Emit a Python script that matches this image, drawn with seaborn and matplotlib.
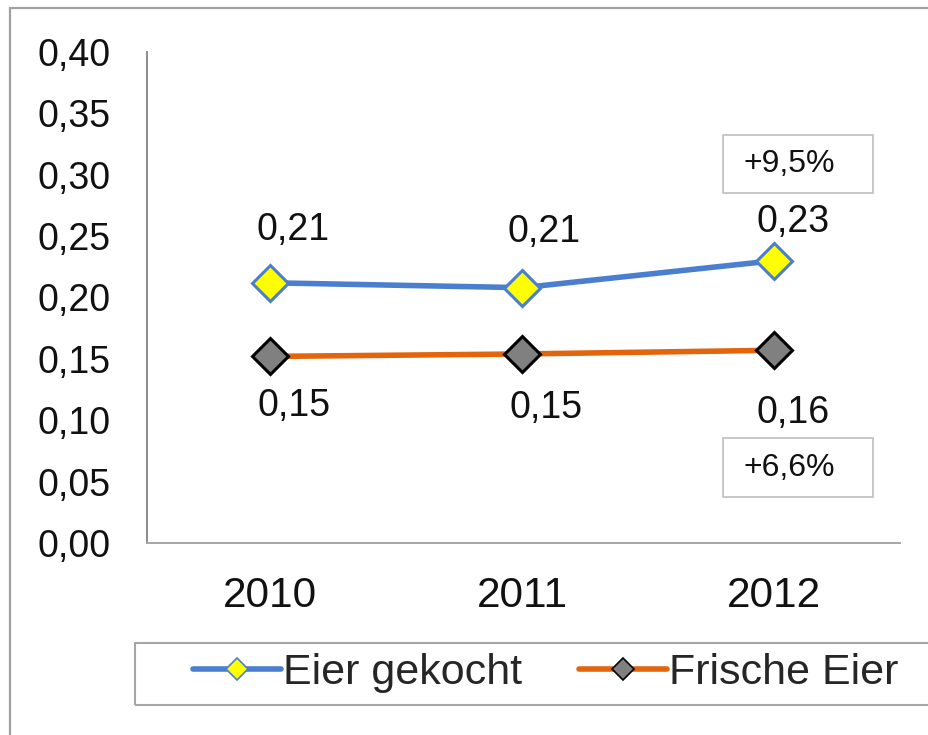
import matplotlib
matplotlib.use("Agg")
import matplotlib.pyplot as plt
from matplotlib.patches import Rectangle
from matplotlib.lines import Line2D
from matplotlib.ticker import FuncFormatter, MultipleLocator
import seaborn as sns
import pandas as pd

# ---- data ----
years = ["2010", "2011", "2012"]
eier_gekocht = [0.212, 0.208, 0.230]
frische_eier = [0.152, 0.154, 0.157]
series_names = ["Eier gekocht", "Frische Eier"]
change_labels = ["+9,5%", "+6,6%"]

sns.set_theme(style="white")
plt.rcParams["font.family"] = ["Liberation Sans", "DejaVu Sans"]

W, H = 929, 735
fig = plt.figure(figsize=(W / 100, H / 100), dpi=100)
ax = fig.add_axes([147 / W, 1 - 543 / H, 753 / W, (543 - 52) / H])

def fx(px):
    return px / W

def fy(py):
    return 1 - py / H

pos = list(range(len(years)))
df = pd.DataFrame({"pos": pos * 2,
                   "value": eier_gekocht + frische_eier,
                   "series": [series_names[0]] * 3 + [series_names[1]] * 3})

styles = {
    series_names[0]: dict(color="#4A7FD0", mfc="#FFFF00", mec="#4A7FD0"),
    series_names[1]: dict(color="#E2650C", mfc="#808080", mec="#000000"),
}
for name in series_names:
    st = styles[name]
    sub = df[df["series"] == name]
    sns.lineplot(data=sub, x="pos", y="value", ax=ax, color=st["color"],
                 linewidth=4.0, marker="D", markersize=18.5,
                 markerfacecolor=st["mfc"], markeredgecolor=st["mec"],
                 markeredgewidth=2.2, legend=False)

ax.set_xlim(-0.49, 2.5)
ax.set_ylim(0, 0.40)
ax.yaxis.set_major_locator(MultipleLocator(0.05))
ax.yaxis.set_major_formatter(FuncFormatter(lambda v, p: f"{v:.2f}".replace(".", ",")))
ax.set_xticks(pos)
ax.set_xticklabels(years)
ax.tick_params(axis="y", length=0, pad=26, labelsize=27, labelcolor="#111111")
ax.tick_params(axis="x", length=0, pad=24, labelsize=30.5, labelcolor="#111111")
ax.set_xlabel("")
ax.set_ylabel("")
for s in ["top", "right"]:
    ax.spines[s].set_visible(False)
ax.spines["left"].set_color("#8C8C8C")
ax.spines["bottom"].set_color("#A6A6A6")
ax.spines["left"].set_linewidth(1.4)
ax.spines["bottom"].set_linewidth(1.4)
ax.grid(False)

# data labels
off_g = [(16, 38), (16, 40), (14, 28)]
off_f = [(17, -36), (17, -39), (14, -45)]
for vals, offs in [(eier_gekocht, off_g), (frische_eier, off_f)]:
    for x, v, (dx, dy) in zip(pos, vals, offs):
        ax.annotate(f"{v:.2f}".replace(".", ","), (x, v), xytext=(dx, dy),
                    textcoords="offset points", ha="center", va="center",
                    fontsize=27, color="#111111")

# change boxes
for (top, bot), txt in zip([(135, 193), (438, 497)], change_labels):
    fig.patches.append(Rectangle((fx(723), fy(bot)), fx(873) - fx(723), fy(top) - fy(bot),
                                 transform=fig.transFigure, fill=False,
                                 edgecolor="#BFBFBF", linewidth=1.2))
    fig.text(fx(789), fy((top + bot) / 2), txt, ha="center", va="center",
             fontsize=23, color="#111111")

# legend
handles = [Line2D([], [], color=styles[n]["color"], lw=4.0, marker="D", markersize=11,
                  markerfacecolor=styles[n]["mfc"], markeredgecolor=styles[n]["mec"],
                  markeredgewidth=1.2) for n in series_names]
fig.legend(handles, series_names, loc="center left",
           bbox_to_anchor=(fx(193), fy(673)), ncol=2, frameon=False,
           fontsize=31, handlelength=2.05, handletextpad=0.05,
           columnspacing=1.3, borderpad=0, borderaxespad=0)
fig.patches.append(Rectangle((fx(135), fy(705)), fx(960) - fx(135), fy(643) - fy(705),
                             transform=fig.transFigure, fill=False,
                             edgecolor="#A6A6A6", linewidth=1.5))

# outer frame
fig.patches.append(Rectangle((fx(10), -0.05), 1.2, fy(8) + 0.05,
                             transform=fig.transFigure, fill=False,
                             edgecolor="#A0A0A0", linewidth=1.6))

fig.savefig("out.png", dpi=100)
